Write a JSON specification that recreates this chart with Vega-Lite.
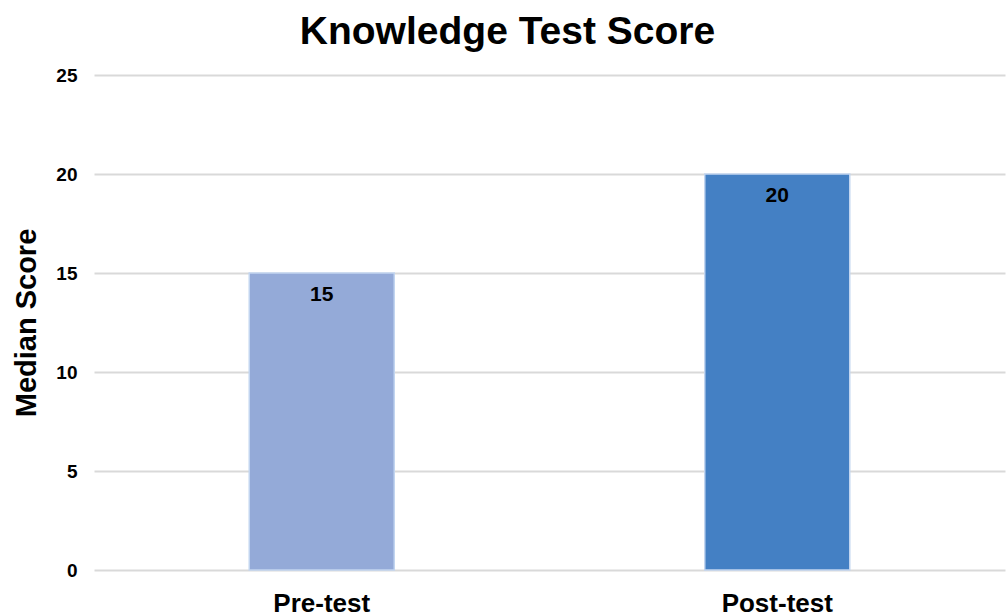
{
  "$schema": "https://vega.github.io/schema/vega-lite/v6.json",
  "autosize": "none",
  "width": 911,
  "height": 495,
  "padding": {"left": 94, "top": 75, "right": 2, "bottom": 46},
  "background": "white",
  "config": {"font": "Liberation Sans", "view": {"stroke": null}},
  "title": {
    "text": "Knowledge Test Score",
    "fontSize": 39,
    "fontWeight": "bold",
    "color": "#000000",
    "anchor": "middle",
    "dx": -42,
    "offset": 14
  },
  "data": {
    "values": [
      {"test": "Pre-test", "score": 15},
      {"test": "Post-test", "score": 20}
    ]
  },
  "encoding": {
    "x": {
      "field": "test",
      "type": "nominal",
      "sort": ["Pre-test", "Post-test"],
      "scale": {"paddingInner": 0.5, "paddingOuter": 0.25},
      "axis": {
        "title": null,
        "labelAngle": 0,
        "labelFontSize": 26,
        "labelFontWeight": "bold",
        "labelColor": "#000000",
        "labelPadding": 20,
        "domain": false,
        "ticks": false
      }
    },
    "y": {
      "field": "score",
      "type": "quantitative",
      "scale": {"domain": [0, 25]},
      "axis": {
        "title": "Median Score",
        "titleFontSize": 29,
        "titleFontWeight": "bold",
        "titleColor": "#000000",
        "titlePadding": 14,
        "values": [0, 5, 10, 15, 20, 25],
        "labelFontSize": 19,
        "labelFontWeight": "bold",
        "labelColor": "#000000",
        "labelPadding": 17,
        "domain": false,
        "ticks": false,
        "gridColor": "#d9d9d9",
        "gridWidth": 2
      }
    }
  },
  "layer": [
    {
      "mark": {"type": "bar", "size": 145, "stroke": "#c2d5f0", "strokeWidth": 1.5},
      "encoding": {
        "color": {
          "field": "test",
          "type": "nominal",
          "scale": {"domain": ["Pre-test", "Post-test"], "range": ["#94aad8", "#4480c4"]},
          "legend": null
        }
      }
    },
    {
      "mark": {"type": "text", "baseline": "top", "dy": 11, "fontSize": 21, "fontWeight": "bold", "color": "#000000"},
      "encoding": {"text": {"field": "score", "type": "quantitative"}}
    }
  ]
}
